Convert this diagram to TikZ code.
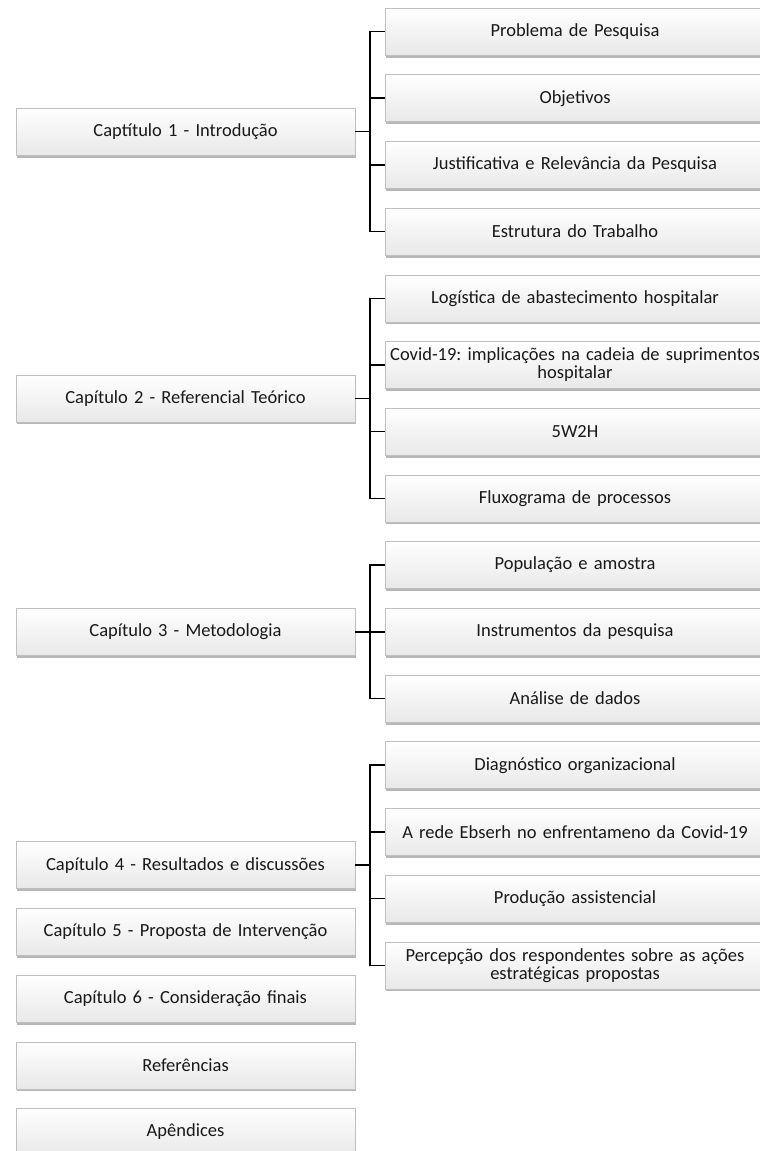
\documentclass[tikz,border=0pt]{standalone}
\usepackage{fontspec}
\setmainfont{Carlito}
\frenchspacing
\usetikzlibrary{positioning,shadows}

\begin{document}
\begin{tikzpicture}[x=1pt, y=-1pt,
    box/.style={draw=black!25, line width=0.6pt, rectangle, minimum height=47pt,
                inner sep=2pt, outer sep=0pt, top color=white, bottom color=black!9,
                align=center, font=\fontsize{18.5}{18}\selectfont, text=black!90,
                drop shadow={shadow xshift=1pt, shadow yshift=-2.5pt, opacity=0.4, fill=black!70}},
    chap/.style={box, text width=335pt},
    sec/.style={box, text width=376pt},
    link/.style={line width=1.5pt}
  ]
  \useasboundingbox (0,0) rectangle (760,1151);

  % sections on the right
  \node[sec] at (575,31.5) (s1) {Problema de Pesquisa};
  \node[sec, below=19.7pt of s1]  (s2)  {Objetivos};
  \node[sec, below=19.7pt of s2]  (s3)  {Justificativa e Relevância da Pesquisa};
  \node[sec, below=19.7pt of s3]  (s4)  {Estrutura do Trabalho};
  \node[sec, below=19.7pt of s4]  (s5)  {Logística de abastecimento hospitalar};
  \node[sec, below=19.7pt of s5]  (s6)  {\mbox{Covid-19: implicações na cadeia de suprimentos}\\hospitalar};
  \node[sec, below=19.7pt of s6]  (s7)  {5W2H};
  \node[sec, below=19.7pt of s7]  (s8)  {Fluxograma de processos};
  \node[sec, below=19.7pt of s8]  (s9)  {População e amostra};
  \node[sec, below=19.7pt of s9]  (s10) {Instrumentos da pesquisa};
  \node[sec, below=19.7pt of s10] (s11) {Análise de dados};
  \node[sec, below=19.7pt of s11] (s12) {Diagnóstico organizacional};
  \node[sec, below=19.7pt of s12] (s13) {A rede Ebserh no enfrentameno da Covid-19};
  \node[sec, below=19.7pt of s13] (s14) {Produção assistencial};
  \node[sec, below=19.7pt of s14] (s15) {Percepção dos respondentes sobre as ações\\estratégicas propostas};

  % chapters on the left
  \node[chap] at (185.5,131.5) (c1) {Captítulo 1 - Introdução};
  \node[chap] at (185.5,398.3) (c2) {Capítulo 2 - Referencial Teórico};
  \node[chap] at (185.5,631.8) (c3) {Capítulo 3 - Metodologia};
  \node[chap] at (185.5,865.2) (c4) {Capítulo 4 - Resultados e discussões};
  \node[chap, below=19.7pt of c4] (c5) {Capítulo 5 - Proposta de Intervenção};
  \node[chap, below=19.7pt of c5] (c6) {Capítulo 6 - Consideração finais};
  \node[chap, below=19.7pt of c6] (ref) {Referências};
  \node[chap, below=19.7pt of ref] (apx) {Apêndices};

  % connectors
  \draw[link] (c1.east) -- ++(15,0) coordinate (b1);
  \draw[link] (b1) |- (s1.west);
  \draw[link] (b1) |- (s2.west);
  \draw[link] (b1) |- (s3.west);
  \draw[link] (b1) |- (s4.west);

  \draw[link] (c2.east) -- ++(15,0) coordinate (b2);
  \draw[link] (b2) |- (s5.west);
  \draw[link] (b2) |- (s6.west);
  \draw[link] (b2) |- (s7.west);
  \draw[link] (b2) |- (s8.west);

  \draw[link] (c3.east) -- ++(15,0) coordinate (b3);
  \draw[link] (b3) |- (s9.west);
  \draw[link] (b3) |- (s10.west);
  \draw[link] (b3) |- (s11.west);

  \draw[link] (c4.east) -- ++(15,0) coordinate (b4);
  \draw[link] (b4) |- (s12.west);
  \draw[link] (b4) |- (s13.west);
  \draw[link] (b4) |- (s14.west);
  \draw[link] (b4) |- (s15.west);
\end{tikzpicture}
\end{document}
